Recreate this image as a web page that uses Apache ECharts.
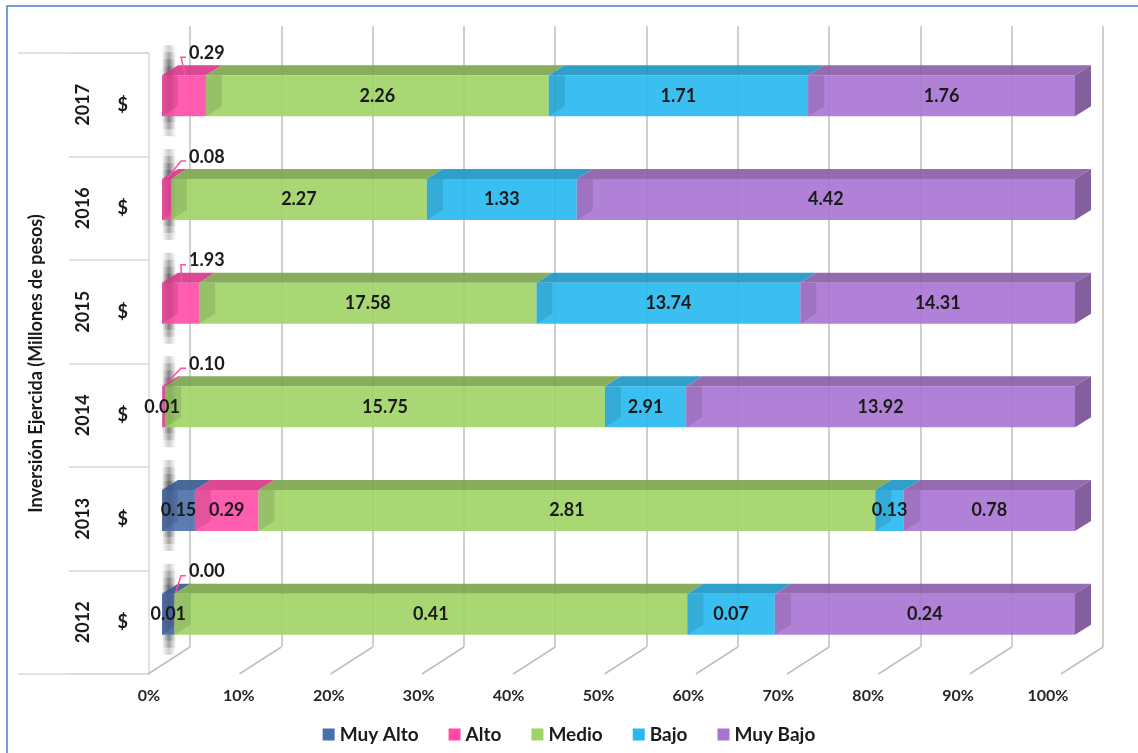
<!DOCTYPE html>
<html>
<head>
<meta charset="utf-8">
<script src="https://cdn.jsdelivr.net/npm/echarts@6/dist/echarts.min.js"></script>
<style>
  html, body { margin: 0; padding: 0; background: #ffffff; }
  #chart { width: 1138px; height: 753px; }
</style>
</head>
<body>
<div id="chart"></div>
<script>
// Inversión ejercida por nivel, millones de pesos (rows bottom-to-top: 2012 .. 2017)
const years = ['2012', '2013', '2014', '2015', '2016', '2017'];
const levels = ['Muy Alto', 'Alto', 'Medio', 'Bajo', 'Muy Bajo'];
const muyAlto = [0.01, 0.15, 0.01, null, null, null];
const alto    = [0.00, 0.29, 0.10, 1.93, 0.08, 0.29];
const medio   = [0.41, 2.81, 15.75, 17.58, 2.27, 2.26];
const bajo    = [0.07, 0.13, 2.91, 13.74, 1.33, 1.71];
const muyBajo = [0.24, 0.78, 13.92, 14.31, 4.42, 1.76];
const percentTicks = [0, 10, 20, 30, 40, 50, 60, 70, 80, 90, 100];

const values = [muyAlto, alto, medio, bajo, muyBajo];

// face colours: front, top, side
const palette = [
  { front: '#4A6EAA', top: '#3A5A8E', side: '#33507F' },
  { front: '#FF4BA6', top: '#D8398A', side: '#C4307C' },
  { front: '#9ED365', top: '#7EA64E', side: '#7AA34C' },
  { front: '#26B8EE', top: '#1E97C4', side: '#1C8DB8' },
  { front: '#A973D3', top: '#8A61A9', side: '#7C5798' }
];

const FONT = 'Lato, "Open Sans", sans-serif';
const BAR_H = 41, DX = 16, DY = 10;

// 100% stacking: share of each level within its year
const totals = years.map((_, r) => values.reduce((s, arr) => s + (arr[r] || 0), 0));
const stackData = values.map(() => []);
years.forEach((_, r) => {
  let acc = 0;
  values.forEach((arr, i) => {
    const v = arr[r];
    if (v === null || v === undefined) return;
    const share = v / totals[r] * 100;
    stackData[i].push([acc, acc + share, r, v]);
    acc += share;
  });
});

function makeRenderer(si) {
  const col = palette[si];
  const isLast = si === values.length - 1;
  return function (params, api) {
    const s = api.value(0), e = api.value(1), row = api.value(2), raw = api.value(3);
    const p0 = api.coord([s, row]);
    const p1 = api.coord([e, row]);
    const xs = p0[0], xe = p1[0], yc = p0[1];
    const yt = yc - BAR_H / 2, yb = yc + BAR_H / 2;
    const w = xe - xs;
    const children = [];
    if (w > 0.05) {
      children.push({
        type: 'polygon',
        shape: { points: [[xs, yt], [xs + DX, yt - DY], [xe + DX, yt - DY], [xe, yt]] },
        style: { fill: col.top, opacity: 0.92 }
      });
      children.push({
        type: 'rect',
        shape: { x: xs, y: yt, width: w, height: BAR_H },
        style: { fill: col.front, opacity: 0.9 }
      });
      const lw = Math.min(DX, w);
      children.push({
        type: 'polygon',
        shape: { points: [[xs, yt], [xs + lw, yt], [xs + lw, yb - DY * lw / DX], [xs, yb]] },
        style: { fill: 'rgba(0,0,0,0.10)' }
      });
      if (isLast) {
        children.push({
          type: 'polygon',
          shape: { points: [[xe, yt], [xe + DX, yt - DY], [xe + DX, yb - DY], [xe, yb]] },
          style: { fill: col.side, opacity: 0.95 }
        });
      }
    }
    const txt = raw.toFixed(2);
    if (si === 1 && w < 50) {
      // narrow "Alto" slice: label above the bar with a leader line
      const x0 = api.coord([0, row])[0];
      const lx = x0 + 27, ly = yt - 22;
      children.push({
        type: 'polyline',
        shape: { points: [[(xs + xe) / 2 + 1, yt - 1], [lx - 8, ly + 4], [lx - 3, ly + 4]] },
        style: { stroke: col.front, lineWidth: 1.5, fill: null },
        z2: 50
      });
      children.push({
        type: 'text',
        x: lx, y: ly,
        style: { text: txt, fill: '#1a1a1a', font: 'bold 18px ' + FONT, textAlign: 'left', textVerticalAlign: 'middle' },
        z2: 100
      });
    } else {
      children.push({
        type: 'text',
        x: (xs + xe) / 2, y: yc,
        style: { text: txt, fill: '#1a1a1a', font: 'bold 18px ' + FONT, textAlign: 'center', textVerticalAlign: 'middle' },
        z2: 100
      });
    }
    return { type: 'group', children: children };
  };
}

const barSeries = levels.map((name, i) => ({
  name: name,
  type: 'custom',
  xAxisIndex: 0,
  yAxisIndex: 0,
  renderItem: makeRenderer(i),
  encode: { x: [0, 1], y: 2 },
  itemStyle: { color: palette[i].front },
  data: stackData[i],
  z: 3
}));

// soft cast shadow at the base of every bar: stacked layers with a sideways fade
const shadowSeries = {
  type: 'custom',
  xAxisIndex: 0,
  yAxisIndex: 0,
  silent: true,
  z: 2,
  data: years.map((_, r) => [0, r]),
  encode: { x: 0, y: 1 },
  renderItem: function (params, api) {
    const p = api.coord([api.value(0), api.value(1)]);
    const cx = p[0] + 7;
    const top = p[1] - BAR_H / 2 - 30, bot = p[1] + BAR_H / 2 + 20;
    const layers = [];
    for (let k = 0; k < 5; k++) {
      const inset = 7 * k;
      layers.push({
        type: 'rect',
        shape: { x: cx - 7, y: top + inset, width: 14, height: bot - top - 2 * inset },
        style: {
          fill: new echarts.graphic.LinearGradient(0, 0, 1, 0, [
            { offset: 0, color: 'rgba(0,0,0,0)' },
            { offset: 0.5, color: 'rgba(0,0,0,0.2)' },
            { offset: 1, color: 'rgba(0,0,0,0)' }
          ])
        }
      });
    }
    return { type: 'group', children: layers };
  }
};

// floor edges running from the back wall to the front
const floorSeries = {
  type: 'custom',
  xAxisIndex: 1,
  yAxisIndex: 1,
  silent: true,
  z: 1,
  data: percentTicks.map(v => [v, 0]),
  encode: { x: 0, y: 1 },
  renderItem: function (params, api) {
    const p = api.coord([api.value(0), 0]);
    return {
      type: 'line',
      shape: { x1: p[0], y1: p[1], x2: p[0] - 42, y2: p[1] + 27 },
      style: { stroke: '#BFBFBF', lineWidth: 1.5 }
    };
  }
};

const option = {
  backgroundColor: '#ffffff',
  animation: false,
  grid: [
    { left: 162, top: 44, width: 913, height: 622 },   // bars (front faces)
    { left: 190, top: 26, width: 913, height: 621 },   // back wall
    { left: 149, top: 53, width: 899, height: 621 }    // front floor + category table
  ],
  xAxis: [
    { gridIndex: 0, type: 'value', min: 0, max: 100, show: false },
    {
      gridIndex: 1, type: 'value', min: 0, max: 100, interval: 10,
      axisLabel: { show: false }, axisLine: { show: false }, axisTick: { show: false },
      splitLine: { show: true, lineStyle: { color: '#BFBFBF', width: 1.5 } }
    },
    {
      gridIndex: 2, type: 'value', min: 0, max: 100, interval: 10,
      axisLine: { show: false }, axisTick: { show: false }, splitLine: { show: false },
      axisLabel: { formatter: '{value}%', fontFamily: FONT, fontWeight: 'bold', fontSize: 16, color: '#262626', margin: 14 }
    }
  ],
  yAxis: [
    { gridIndex: 0, type: 'category', data: years, show: false },
    { gridIndex: 1, type: 'value', min: 0, max: 1, show: false },
    {
      gridIndex: 2, type: 'category', data: years, position: 'left',
      axisLine: { show: true, lineStyle: { color: '#D9D9D9', width: 1.5 } },
      axisTick: { show: true, length: 80, lineStyle: { color: '#D9D9D9', width: 1.5 } },
      splitLine: { show: false },
      axisLabel: { formatter: '$', fontFamily: FONT, fontWeight: 'bold', fontSize: 18, color: '#1a1a1a', margin: 21 }
    },
    {
      gridIndex: 2, type: 'category', data: years, position: 'left', offset: 0,
      axisLine: { show: false }, axisTick: { show: false }, splitLine: { show: false },
      axisLabel: { rotate: 90, fontFamily: FONT, fontWeight: 'bold', fontSize: 18, color: '#1a1a1a', margin: 57 },
      name: 'Inversión Ejercida (Millones de pesos)',
      nameLocation: 'middle',
      nameRotate: 90,
      nameGap: 104,
      nameTextStyle: { fontFamily: FONT, fontWeight: 'bold', fontSize: 18, color: '#1a1a1a' }
    }
  ],
  legend: {
    data: levels,
    top: 720,
    left: 'center',
    icon: 'rect',
    itemWidth: 12,
    itemHeight: 12,
    itemGap: 30,
    textStyle: { fontFamily: FONT, fontWeight: 'bold', fontSize: 19, color: '#1a1a1a' }
  },
  graphic: [
    { type: 'line', shape: { x1: 18, y1: 53, x2: 149, y2: 53 }, style: { stroke: '#D9D9D9', lineWidth: 1.5 }, silent: true },
    { type: 'line', shape: { x1: 18, y1: 674, x2: 149, y2: 674 }, style: { stroke: '#D9D9D9', lineWidth: 1.5 }, silent: true },
    { type: 'rect', shape: { x: 7, y: 6, width: 1300, height: 900 }, style: { fill: null, stroke: '#4A7FD8', lineWidth: 1.5 }, silent: true }
  ],
  series: [floorSeries, shadowSeries].concat(barSeries)
};

const chart = echarts.init(document.getElementById('chart'), null, { renderer: 'canvas' });
chart.setOption(option);
</script>
</body>
</html>
